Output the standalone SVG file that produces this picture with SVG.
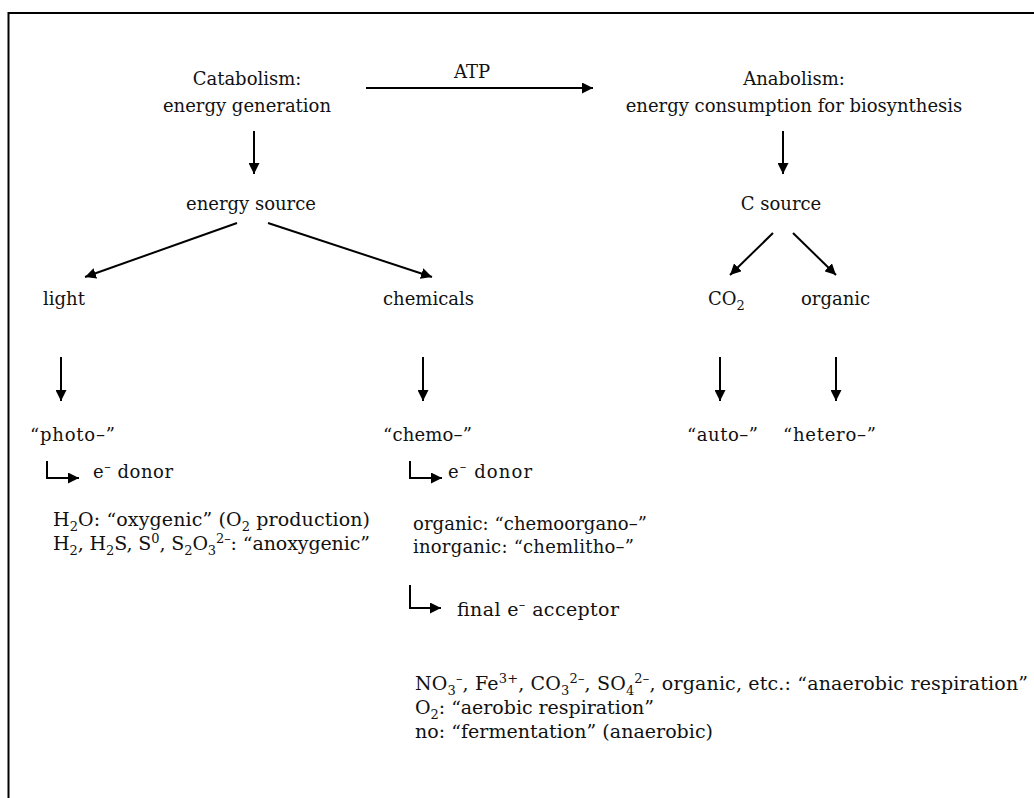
<svg xmlns="http://www.w3.org/2000/svg" width="1034" height="798" viewBox="0 0 1034 798">
<style>
text{font-family:"DejaVu Serif","Liberation Serif",serif;font-size:18px;fill:#111}
.c{text-anchor:middle}
.b{font-size:19px}
.ln{stroke:#000;stroke-width:2;fill:none}
</style>
<defs>
<marker id="ah" markerWidth="12" markerHeight="11" refX="11" refY="5.5" orient="auto" markerUnits="userSpaceOnUse">
<path d="M0,0 L11,5.5 L0,11 Z" fill="#000"/>
</marker>
</defs>
<rect x="0" y="0" width="1034" height="798" fill="#fff"/>
<path d="M8.5,798 V13 H1034" class="ln"/>
<g id="catabolism"><text class="c" x="247" y="85">Catabolism:</text><text class="c" x="247" y="112">energy generation</text></g>
<g id="atp"><text class="c" x="472" y="78">ATP</text></g>
<g id="anabolism"><text class="c" x="794" y="85">Anabolism:</text><text class="c" x="794" y="112">energy consumption for biosynthesis</text></g>
<g id="energy-source"><text class="c" x="251" y="210">energy source</text></g>
<g id="c-source"><text class="c" x="781" y="210">C source</text></g>
<g id="light"><text x="43" y="305">light</text></g>
<g id="chemicals"><text x="383" y="305">chemicals</text></g>
<g id="co2"><text x="708" y="305">CO<tspan font-size="13" baseline-shift="-5">2</tspan></text></g>
<g id="organic"><text x="801" y="305">organic</text></g>
<g id="photo"><text x="30" y="441" textLength="85">“photo–”</text></g>
<g id="chemo"><text x="383" y="441" textLength="89">“chemo–”</text></g>
<g id="auto"><text x="687" y="441" textLength="71">“auto–”</text></g>
<g id="hetero"><text x="783" y="441" textLength="93">“hetero–”</text></g>
<g id="photo-donor"><text x="93" y="478" textLength="80">e<tspan font-size="13" baseline-shift="7">–</tspan> donor</text></g>
<g id="photo-list">
<text class="b" x="53" y="526" textLength="317">H<tspan font-size="13" baseline-shift="-5">2</tspan>O: “oxygenic” (O<tspan font-size="13" baseline-shift="-5">2</tspan> production)</text>
<text class="b" x="53" y="550" textLength="317">H<tspan font-size="13" baseline-shift="-5">2</tspan>, H<tspan font-size="13" baseline-shift="-5">2</tspan>S, S<tspan font-size="13" baseline-shift="7">0</tspan>, S<tspan font-size="13" baseline-shift="-5">2</tspan>O<tspan font-size="13" baseline-shift="-5">3</tspan><tspan font-size="13" baseline-shift="7">2–</tspan>: “anoxygenic”</text>
</g>
<g id="chemo-donor"><text x="448" y="478" textLength="84">e<tspan font-size="13" baseline-shift="7">–</tspan> donor</text></g>
<g id="chemo-list">
<text x="413" y="530" textLength="234">organic: “chemoorgano–”</text>
<text x="413" y="553" textLength="221">inorganic: “chemlitho–”</text>
</g>
<g id="acceptor"><text class="b" x="457" y="616" textLength="162">final e<tspan font-size="13" baseline-shift="7">–</tspan> acceptor</text></g>
<g id="acceptor-list">
<text class="b" x="415" y="690" textLength="613">NO<tspan font-size="13" baseline-shift="-5">3</tspan><tspan font-size="13" baseline-shift="7">–</tspan>, Fe<tspan font-size="13" baseline-shift="7">3+</tspan>, CO<tspan font-size="13" baseline-shift="-5">3</tspan><tspan font-size="13" baseline-shift="7">2–</tspan>, SO<tspan font-size="13" baseline-shift="-5">4</tspan><tspan font-size="13" baseline-shift="7">2–</tspan>, organic, etc.: “anaerobic respiration”</text>
<text class="b" x="415" y="714" textLength="239">O<tspan font-size="13" baseline-shift="-5">2</tspan>: “aerobic respiration”</text>
<text class="b" x="415" y="738" textLength="298">no: “fermentation” (anaerobic)</text>
</g>
<g id="connectors" class="ln" marker-end="url(#ah)">
<path d="M366,88 H593"/>
<path d="M254,131 V174"/>
<path d="M783,131 V174"/>
<path d="M237,223 L85,277"/>
<path d="M268,223 L432,277"/>
<path d="M773,233 L730,275"/>
<path d="M793,233 L836,275"/>
<path d="M61,357 V401"/>
<path d="M423,357 V401"/>
<path d="M720,357 V401"/>
<path d="M836,357 V401"/>
<path d="M47,461 V478 H79"/>
<path d="M410,461 V478 H442"/>
<path d="M410,585 V608 H441"/>
</g>
</svg>
